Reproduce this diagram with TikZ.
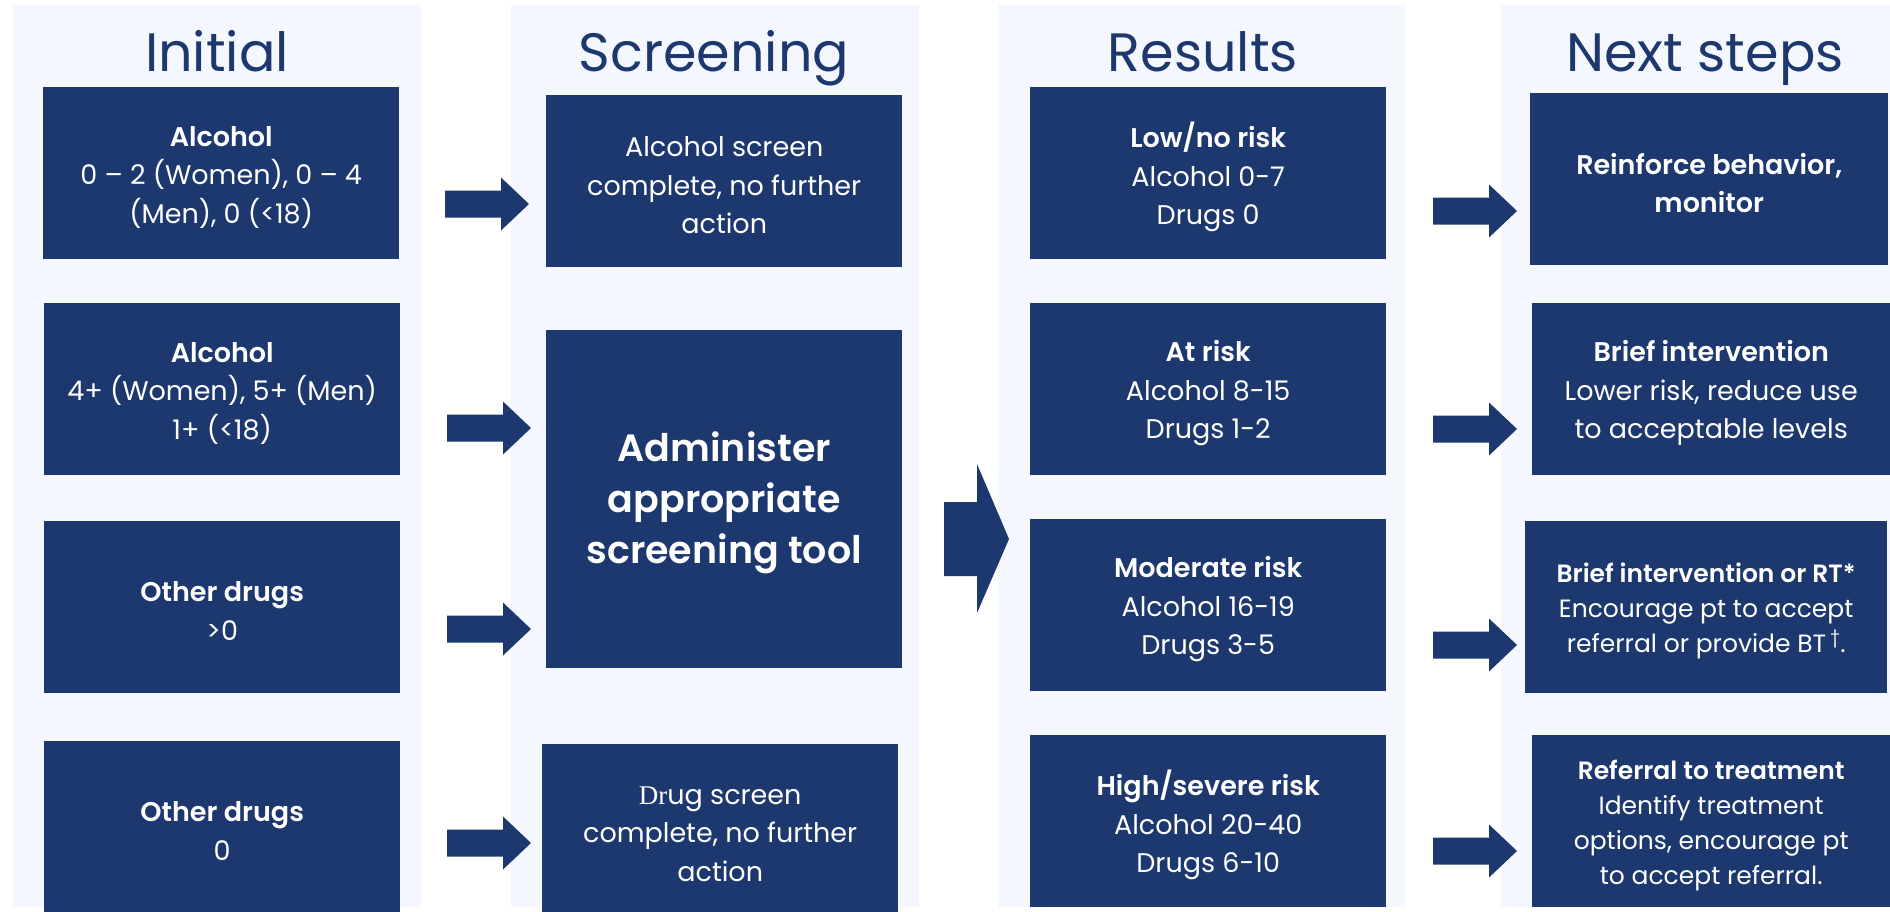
\documentclass[tikz,border=0pt]{standalone}
\usepackage{fontspec}
\setmainfont{Poppins}[BoldFont={Poppins SemiBold}]
\newfontfamily\serifdr{Liberation Serif}
\definecolor{navy}{HTML}{1D376F}
\definecolor{pale}{HTML}{F4F7FE}
\newcommand\cell[5][]{%
  \node[box,#1] (#2) at (#3) {};
  \node[txt,#1] (#2t) at ([yshift=-4pt]#2.center) {#4#5};}
\begin{document}
\begin{tikzpicture}[x=1pt,y=-1pt,
  colbg/.style={fill=pale},
  box/.style={fill=navy, inner sep=0pt, anchor=north west,
              minimum width=356pt, minimum height=172pt},
  txt/.style={text=white, inner sep=0pt, align=center, fill=none,
              minimum width=0pt, minimum height=0pt, anchor=center,
              font=\fontsize{27}{38.5}\selectfont},
  small/.style={font=\fontsize{25}{35}\selectfont},
  big/.style={minimum height=338pt, font=\fontsize{38}{51}\selectfont\bfseries},
  title/.style={text=navy, anchor=base, inner sep=0pt, font=\fontsize{54}{60}\selectfont},
  arr/.style={fill=navy}]
\useasboundingbox (0,0) rectangle (1890,911);
\fill[white] (0,0) rectangle (1890,911);
% column backgrounds
\fill[colbg] (13,5) rectangle (421,907);
\fill[colbg] (511,5) rectangle (919,907);
\fill[colbg] (998,5) rectangle (1406,907);
\fill[colbg] (1501,5) rectangle (1890,907);
% titles
\node[title] (t1) at (217,71) {Initial};
\node[title] (t2) at (714,71) {Screening};
\node[title] (t3) at (1203,71) {Results};
\node[title] (t4) at (1705,71) {Next steps};
% Initial
\cell{i1}{43,87}{\textbf{Alcohol}\\0 – 2 (Women), 0 – 4\\(Men), 0 (<18)}{}
\cell{i2}{44,303}{\textbf{Alcohol}\\4+ (Women), 5+ (Men)\\1+ (<18)}{}
\cell{i3}{44,521}{\textbf{Other drugs}\\>0}{}
\cell{i4}{44,741}{\textbf{Other drugs}\\0}{}
% Screening
\cell{s1}{546,95}{Alcohol screen\\complete, no further\\action}{}
\cell[big]{s2}{546,330}{Administer\\appropriate\\screening tool}{}
\cell{s3}{542,744}{{\serifdr Dr}ug screen\\complete, no further\\action}{}
% Results
\cell{r1}{1030,87}{\textbf{Low/no risk}\\Alcohol 0-7\\Drugs 0}{}
\cell{r2}{1030,303}{\textbf{At risk}\\Alcohol 8-15\\Drugs 1-2}{}
\cell{r3}{1030,519}{\textbf{Moderate risk}\\Alcohol 16-19\\Drugs 3-5}{}
\cell{r4}{1030,735}{\textbf{High/severe risk}\\Alcohol 20-40\\Drugs 6-10}{}
% Next steps
\cell[minimum width=358pt]{n1}{1530,93}{\textbf{Reinforce behavior,}\\\textbf{monitor}}{}
\cell[minimum width=358pt]{n2}{1532,303}{\textbf{Brief intervention}\\Lower risk, reduce use\\to acceptable levels}{}
\cell[small, minimum width=362pt]{n3}{1525,521}{\textbf{Brief intervention or RT*}\\Encourage pt to accept\\referral or provide BT\,\textsuperscript{\textdagger}.}{}
\cell[small, minimum width=358pt]{n4}{1532,735}{\textbf{Referral to treatment}\\Identify treatment\\options, encourage pt\\to accept referral.}{}
% small block arrows: left x, centre y
\foreach \x/\y/\nm in {445/204/a1, 447/428/a2, 447/629/a3, 447/843/a4,
                        1433/211/b1, 1433/429/b2, 1433/645/b3, 1433/851/b4}{
  \coordinate (\nm) at (\x,\y);
  \fill[arr] (\nm) ++(0,-13.5) -- ++(56,0) -- ++(0,-13) -- ++(28,26.5)
    -- ++(-28,26.5) -- ++(0,-13) -- ++(-56,0) -- cycle;
}
% big block arrow
\coordinate (big) at (944,539);
\fill[arr] (big) ++(0,-37) -- ++(33,0) -- ++(0,-38) -- ++(32,75)
  -- ++(-32,74) -- ++(0,-37) -- ++(-33,0) -- cycle;
\end{tikzpicture}
\end{document}
